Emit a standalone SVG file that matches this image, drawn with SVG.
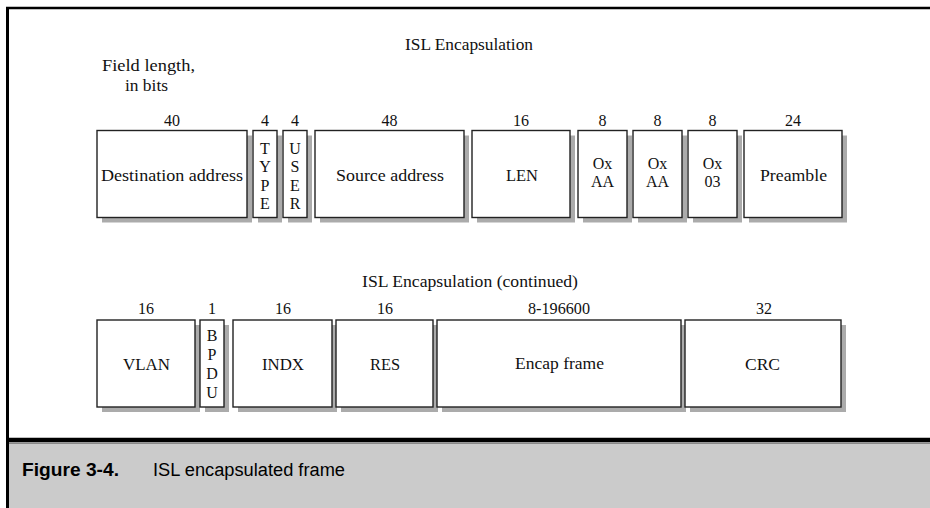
<svg xmlns="http://www.w3.org/2000/svg" width="930" height="508" viewBox="0 0 930 508">
<style>
  .t { font-family: "Liberation Serif", "Times New Roman", serif; font-size: 16px; fill: #111; text-anchor: middle; }
  .box { fill: #fff; stroke: #222; stroke-width: 1.4; }
  .sh { fill: #ababab; }
  .cap { font-family: "Liberation Sans", Arial, sans-serif; font-size: 18px; fill: #000; }
</style>
<rect x="0" y="0" width="930" height="508" fill="#fff"/>
<!-- caption band -->
<rect x="8" y="442" width="922" height="66" fill="#cbcbcb"/>
<line x1="8" y1="440" x2="930" y2="440" stroke="#000" stroke-width="4.5"/>
<line x1="8" y1="443.5" x2="930" y2="443.5" stroke="#888" stroke-width="1"/>
<!-- frame -->
<line x1="6" y1="8" x2="930" y2="8" stroke="#000" stroke-width="2.5"/>
<line x1="7.5" y1="7" x2="7.5" y2="508" stroke="#000" stroke-width="3"/>

<text class="t" x="469" y="50" textLength="128" lengthAdjust="spacingAndGlyphs">ISL Encapsulation</text>
<text class="t" x="148.5" y="71" textLength="93" lengthAdjust="spacingAndGlyphs">Field length,</text>
<text class="t" x="146.5" y="91" textLength="43" lengthAdjust="spacingAndGlyphs">in bits</text>

<!-- top row -->
<g id="dest">
  <rect class="sh" x="102" y="135.5" width="150" height="87"/>
  <rect class="box" x="97" y="130.5" width="150" height="87"/>
  <text class="t" x="172" y="126">40</text>
  <text class="t" x="172" y="181" textLength="142" lengthAdjust="spacingAndGlyphs">Destination address</text>
</g>
<g id="type">
  <rect class="sh" x="258" y="135.5" width="24" height="87"/>
  <rect class="box" x="253" y="130.5" width="24" height="87"/>
  <text class="t" x="265" y="126">4</text>
  <text class="t" x="265" y="154">T</text>
  <text class="t" x="265" y="172">Y</text>
  <text class="t" x="265" y="191">P</text>
  <text class="t" x="265" y="209">E</text>
</g>
<g id="user">
  <rect class="sh" x="288" y="135.5" width="24" height="87"/>
  <rect class="box" x="283" y="130.5" width="24" height="87"/>
  <text class="t" x="295" y="126">4</text>
  <text class="t" x="295" y="154">U</text>
  <text class="t" x="295" y="172">S</text>
  <text class="t" x="295" y="191">E</text>
  <text class="t" x="295" y="209">R</text>
</g>
<g id="source">
  <rect class="sh" x="320" y="135.5" width="149" height="87"/>
  <rect class="box" x="315" y="130.5" width="149" height="87"/>
  <text class="t" x="389.5" y="126">48</text>
  <text class="t" x="390" y="181" textLength="108" lengthAdjust="spacingAndGlyphs">Source address</text>
</g>
<g id="len">
  <rect class="sh" x="477" y="135.5" width="98" height="87"/>
  <rect class="box" x="472" y="130.5" width="98" height="87"/>
  <text class="t" x="521" y="126">16</text>
  <text class="t" x="522" y="181" textLength="32" lengthAdjust="spacingAndGlyphs">LEN</text>
</g>
<g id="aa1">
  <rect class="sh" x="583" y="135.5" width="49" height="87"/>
  <rect class="box" x="578" y="130.5" width="49" height="87"/>
  <text class="t" x="602.5" y="126">8</text>
  <text class="t" x="602.5" y="169">Ox</text>
  <text class="t" x="602.5" y="187">AA</text>
</g>
<g id="aa2">
  <rect class="sh" x="638" y="135.5" width="49" height="87"/>
  <rect class="box" x="633" y="130.5" width="49" height="87"/>
  <text class="t" x="657.5" y="126">8</text>
  <text class="t" x="657.5" y="169">Ox</text>
  <text class="t" x="657.5" y="187">AA</text>
</g>
<g id="x03">
  <rect class="sh" x="693" y="135.5" width="49" height="87"/>
  <rect class="box" x="688" y="130.5" width="49" height="87"/>
  <text class="t" x="712.5" y="126">8</text>
  <text class="t" x="712.5" y="169">Ox</text>
  <text class="t" x="712.5" y="187">03</text>
</g>
<g id="preamble">
  <rect class="sh" x="749" y="135.5" width="98" height="87"/>
  <rect class="box" x="744" y="130.5" width="98" height="87"/>
  <text class="t" x="793" y="126">24</text>
  <text class="t" x="793.5" y="181" textLength="67" lengthAdjust="spacingAndGlyphs">Preamble</text>
</g>

<text class="t" x="470" y="287" textLength="216" lengthAdjust="spacingAndGlyphs">ISL Encapsulation (continued)</text>

<!-- bottom row -->
<g id="vlan">
  <rect class="sh" x="102" y="325" width="98" height="87"/>
  <rect class="box" x="97" y="320" width="98" height="87"/>
  <text class="t" x="146" y="314">16</text>
  <text class="t" x="146.5" y="370" textLength="47" lengthAdjust="spacingAndGlyphs">VLAN</text>
</g>
<g id="bpdu">
  <rect class="sh" x="205" y="325" width="24" height="87"/>
  <rect class="box" x="200" y="320" width="24" height="87"/>
  <text class="t" x="212" y="314">1</text>
  <text class="t" x="212" y="341">B</text>
  <text class="t" x="212" y="360">P</text>
  <text class="t" x="212" y="379">D</text>
  <text class="t" x="212" y="398">U</text>
</g>
<g id="indx">
  <rect class="sh" x="238" y="325" width="99" height="87"/>
  <rect class="box" x="233" y="320" width="99" height="87"/>
  <text class="t" x="283" y="314">16</text>
  <text class="t" x="283" y="370" textLength="42" lengthAdjust="spacingAndGlyphs">INDX</text>
</g>
<g id="res">
  <rect class="sh" x="341" y="325" width="97" height="87"/>
  <rect class="box" x="336" y="320" width="97" height="87"/>
  <text class="t" x="385" y="314">16</text>
  <text class="t" x="385" y="370" textLength="30" lengthAdjust="spacingAndGlyphs">RES</text>
</g>
<g id="encap">
  <rect class="sh" x="442" y="325" width="244" height="87"/>
  <rect class="box" x="437" y="320" width="244" height="87"/>
  <text class="t" x="559" y="314" textLength="62" lengthAdjust="spacingAndGlyphs">8-196600</text>
  <text class="t" x="559.5" y="369" textLength="89" lengthAdjust="spacingAndGlyphs">Encap frame</text>
</g>
<g id="crc">
  <rect class="sh" x="690" y="325" width="156" height="87"/>
  <rect class="box" x="685" y="320" width="156" height="87"/>
  <text class="t" x="764" y="314">32</text>
  <text class="t" x="762.5" y="370" textLength="35" lengthAdjust="spacingAndGlyphs">CRC</text>
</g>

<g id="connectors"/>

<text class="cap" x="22" y="476" font-weight="bold" textLength="97" lengthAdjust="spacingAndGlyphs">Figure 3-4.</text>
<text class="cap" x="153" y="476" textLength="192" lengthAdjust="spacingAndGlyphs">ISL encapsulated frame</text>
</svg>
